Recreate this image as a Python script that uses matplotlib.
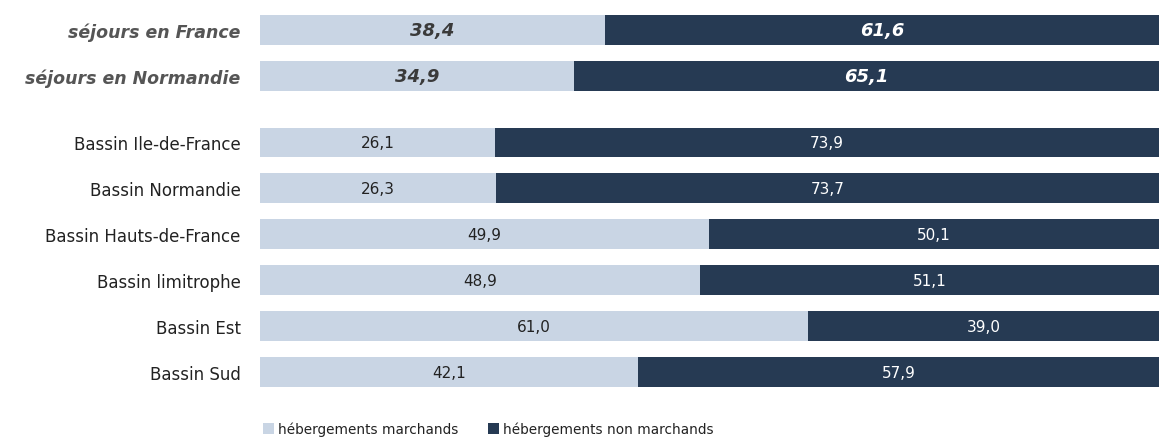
import numpy as np
import matplotlib.pyplot as plt
from matplotlib.patches import Patch

# Data (share of nights, %)
categories = ["séjours en France", "séjours en Normandie",
              "Bassin Ile-de-France", "Bassin Normandie", "Bassin Hauts-de-France",
              "Bassin limitrophe", "Bassin Est", "Bassin Sud"]
marchands = [38.4, 34.9, 26.1, 26.3, 49.9, 48.9, 61.0, 42.1]
non_marchands = [61.6, 65.1, 73.9, 73.7, 50.1, 51.1, 39.0, 57.9]
legend_labels = ["hébergements marchands", "hébergements non marchands"]

light = "#c9d5e4"
dark = "#263a53"

# y positions: two summary bars on top, a gap, then the six basins
ypos = [7.45, 6.45, 5, 4, 3, 2, 1, 0]

plt.rcParams['font.family'] = ['DejaVu Sans']

fig = plt.figure(figsize=(11.59, 4.39), dpi=100)
ax = fig.add_axes([260 / 1159, 43 / 439, 1 - 260 / 1159, 388 / 439])

ax.barh(ypos, marchands, height=0.65, color=light, edgecolor="none")
ax.barh(ypos, non_marchands, left=marchands, height=0.65, color=dark, edgecolor="none")

def fmt(v):
    return f"{v:.1f}".replace(".", ",")

for i, (y, m, n) in enumerate(zip(ypos, marchands, non_marchands)):
    if i < 2:
        kw = dict(fontsize=13, fontweight="bold", fontstyle="oblique")
        ax.text(m / 2, y, fmt(m), ha="center", va="center", color="#3a3a3a", **kw)
        ax.text(m + n / 2, y, fmt(n), ha="center", va="center", color="white", **kw)
    else:
        ax.text(m / 2, y, fmt(m), ha="center", va="center", color="#222222", fontsize=11)
        ax.text(m + n / 2, y, fmt(n), ha="center", va="center", color="white", fontsize=11)

ax.set_xlim(0, 100)
ax.set_ylim(-0.5, 7.95)
ax.set_yticks(ypos)
ax.set_yticklabels(categories)
for i, lab in enumerate(ax.get_yticklabels()):
    if i < 2:
        lab.set_fontsize(12.5)
        lab.set_fontweight("bold")
        lab.set_fontstyle("oblique")
        lab.set_color("#555555")
    else:
        lab.set_fontsize(12)
        lab.set_color("#222222")
ax.tick_params(axis="y", length=0, pad=14)
ax.set_xticks([])
for s in ax.spines.values():
    s.set_visible(False)

handles = [Patch(facecolor=light, label=legend_labels[0]),
           Patch(facecolor=dark, label=legend_labels[1])]
fig.legend(handles=handles, loc="center left", bbox_to_anchor=(256 / 1159, 9 / 439),
           ncol=2, frameon=False, fontsize=9.8, handlelength=0.8, handleheight=0.8,
           handletextpad=0.3, columnspacing=2.2, borderpad=0, labelcolor="#222222")

fig.savefig("out.png", dpi=100)
